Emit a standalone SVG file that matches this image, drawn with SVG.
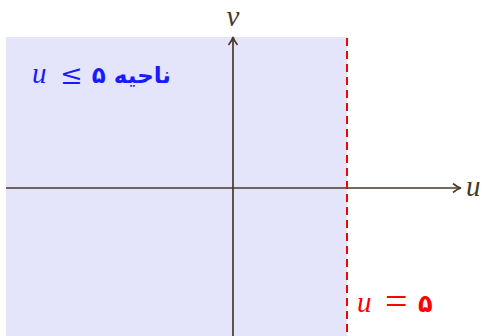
<svg xmlns="http://www.w3.org/2000/svg" width="485" height="336" viewBox="0 0 485 336">
<style>
.ax{stroke:#4a3727;stroke-width:1.7;fill:none}
.mi{font-family:"Liberation Serif",serif;font-style:italic;font-size:29px}
.ar{font-family:"DejaVu Sans",sans-serif;font-weight:bold}
.op{font-family:"Liberation Serif",serif}
</style>
<defs>
<marker id="ah" viewBox="0 0 10 10" refX="8" refY="5" markerWidth="10" markerHeight="10" markerUnits="userSpaceOnUse" orient="auto">
<path d="M1,0.5 Q5,4 9,5 Q5,6 1,9.5" stroke="#4a3727" stroke-width="1.7" fill="none"/>
</marker>
</defs>
<rect width="485" height="336" fill="#fff"/>
<g id="region">
<rect x="6" y="37" width="341" height="299" fill="#e4e4fa"/>
</g>
<g id="connectors">
<line class="ax" x1="6" y1="188" x2="460" y2="188" marker-end="url(#ah)"/>
<line class="ax" x1="233" y1="336" x2="233" y2="38" marker-end="url(#ah)"/>
<line x1="347" y1="38" x2="347" y2="336" stroke="#ff0000" stroke-width="2" stroke-dasharray="8,5"/>
</g>
<g id="labels">
<text class="mi" x="233" y="26" text-anchor="middle" fill="#4a3727">v</text>
<text class="mi" x="466" y="196" fill="#4a3727">u</text>
<g fill="#1a1aff">
<text class="mi" x="32" y="83">u</text>
<text x="60" y="84" font-family="DejaVu Serif,serif" font-size="27">≤</text>
<text class="ar" x="171" y="83" font-size="23" direction="rtl" text-anchor="start">ناحیه ۵</text>
</g>
<g fill="#ff0000">
<text class="mi" x="357" y="312">u</text>
<text class="op" x="385" y="315" font-size="40">=</text>
<text class="ar" x="418" y="312" font-size="24">۵</text>
</g>
</g>
</svg>
